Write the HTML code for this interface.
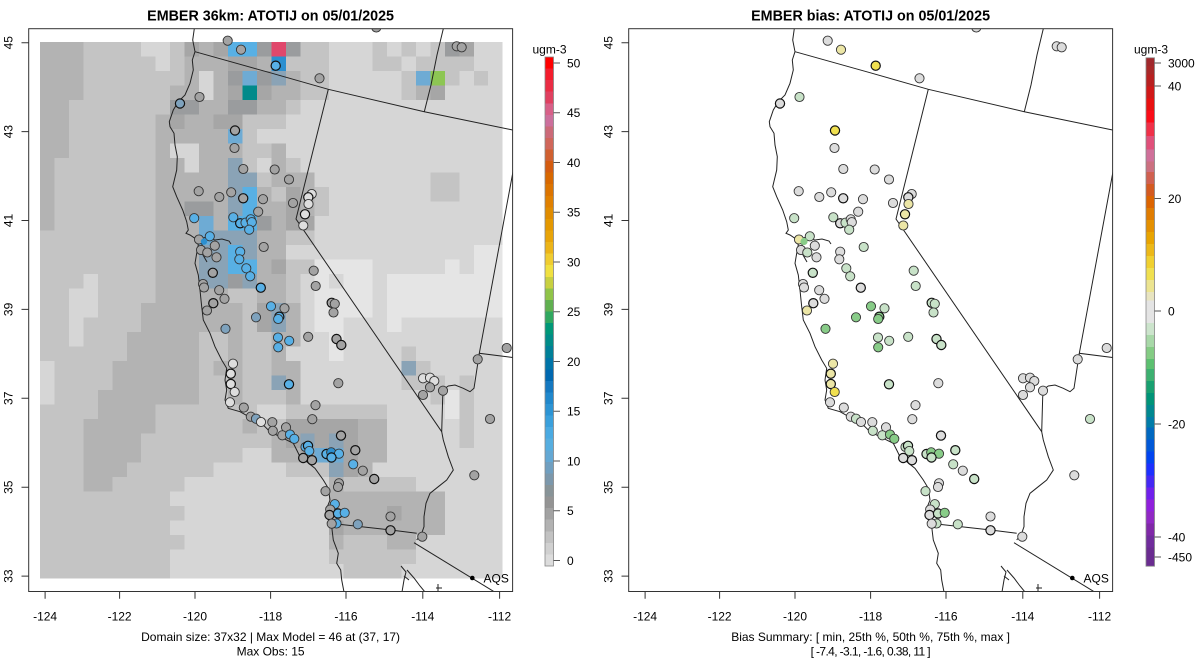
<!DOCTYPE html>
<html><head><meta charset="utf-8"><style>
html,body{margin:0;padding:0;background:#fff;}
svg{display:block;font-family:"Liberation Sans",Arial,sans-serif;}
.k0{fill:#e5e5e5}.k1{fill:#d6d6d6}.k2{fill:#c4c4c4}.k3{fill:#b3b3b3}.k4{fill:#a6a6a6}.k5{fill:#9a9c9e}
.k6{fill:#8aa3b6}.k7{fill:#6eabd4}.k8{fill:#58b0e4}.k9{fill:#2b8fd0}.kT{fill:#008a8a}.kR{fill:#e0486c}.kG{fill:#8dc653}
circle{stroke:#333;stroke-width:0.9}
.t{stroke:#111;stroke-width:1.2}
.cg{fill:#a3a3a3}.cw{fill:#dedede}.cb{fill:#58b0e6}.cs{fill:#7ea2bd}.c9{fill:#2b8fd0}
.rW{fill:#dcdcdc}.rP{fill:#ece6a6}.rY{fill:#f0e050}.rL{fill:#c8e2c8}.rG{fill:#88cc88}
.geo{fill:none;stroke:#222;stroke-width:1}
.ax{stroke:#333;stroke-width:1;fill:none}
text{font-size:12px;fill:#000}
.ttl{font-size:14.3px;font-weight:bold}
</style></head><body>
<svg width="1200" height="672" viewBox="0 0 1200 672" xmlns="http://www.w3.org/2000/svg">
<defs>
<clipPath id="cp" clipPathUnits="userSpaceOnUse"><rect x="28.7" y="28.7" width="483.9" height="562.8"/></clipPath>
<g id="geo">
<path class="geo" d="M194.3,28.7 L192.7,40 L195,51.7 L192.3,60 L193.3,70 L190,83.3 L185,95 L178.3,101.7 L173.3,110 L169.3,121.7 L170,126.7 L174,133.3 L175,145 L177.3,156.7 L176.7,170 L172.7,186.7 L176.7,196.7 L182.7,210 L186.7,221.7 L188.3,230 L186,233.3 L190,235 L195,238.3 L198.3,245 L196.7,253.3 L195,263.3 L198.3,275 L200,290 L201,300 L201.7,306.7 L203.3,320 L210,333.3 L215,346.7 L221.7,360 L226.7,368.3 L225,380 L226.7,390 L225,400 L228.3,408.3 L240,411.7 L250,417.3 L263.3,425 L270,431.7 L280,436.7 L293.3,443.3 L296.7,450 L300,456.7 L306.7,461.7 L315,468.3 L323.3,480 L328.3,488.3 L330,500 L326.7,508.3 L327.3,516.7 L331.7,526.7 L333.3,540 L338.3,553.3 L336.7,563.3 L340.7,570 L341.7,580 L344,592"/>
<path class="geo" d="M196,240 L205,237.5 L215,240 L222,239 L229,241 L231,244 M199,247 L203,255 L207,262 M201,242 L204,250"/>
<path class="geo" d="M195,51.7 L270,72.7 L328.3,89.3 L424.3,111.7 L512.6,130"/>
<path class="geo" d="M328.3,89.3 L296,219 L441.7,431.7"/>
<path class="geo" d="M424.3,111.7 L431,85 L437,55 L443.3,28.7"/>
<path class="geo" d="M513.3,170 L479.3,353.3 L512.6,357.5"/>
<path class="geo" d="M479.3,353.3 L474,388.3 L470,391.7 L463.3,388.3 L455,385 L448.3,386 L445,388.3 L442.7,396.7 L441.7,431.7 L443.3,440 L448.3,456.7 L453.3,470 L446.7,480 L438.3,486.7 L430,493.3 L426,503.3 L424,516.7 L424,526.7 L421.7,533.3 L416.7,540"/>
<path class="geo" d="M330,523.3 L390.7,530 L416.7,533.3"/>
<path class="geo" d="M414,542.7 L494.6,592"/>
<path class="geo" d="M401,566 L406,572 L404,580 L402,592 M407,570 L414,578 L420,586 L425,592 M404,576 L409,580 M438,584 L438,592 M436,588 L442,588"/>
</g>
</defs>

<!-- LEFT PANEL -->
<text class="ttl" x="270.6" y="20.3" text-anchor="middle">EMBER 36km: ATOTIJ on 05/01/2025</text>
<g transform="translate(40,42) scale(14.459,14.505)" shape-rendering="crispEdges">
<rect class="k1" x="0" y="0" width="32" height="37"/>
<path class="k2" d="M3 0h4v1h-4zM9 0h1v1h-1zM18 0h2v1h-2zM23 0h1v1h-1zM25 0h1v1h-1zM27 0h1v1h-1zM3 1h5v1h-5zM9 1h1v1h-1zM17 1h3v1h-3zM23 1h2v1h-2zM26 1h4v1h-4zM3 2h7v1h-7zM18 2h2v1h-2zM25 2h1v1h-1zM28 2h1v1h-1zM30 2h1v1h-1zM3 3h6v1h-6zM18 3h2v1h-2zM25 3h1v1h-1zM2 4h7v1h-7zM17 4h1v1h-1zM2 5h6v1h-6zM14 5h3v1h-3zM2 6h6v1h-6zM14 6h1v1h-1zM2 7h6v1h-6zM14 7h2v1h-2zM1 8h7v1h-7zM14 8h1v1h-1zM17 8h1v1h-1zM1 9h7v1h-7zM15 9h1v1h-1zM27 9h2v1h-2zM1 10h7v1h-7zM16 10h1v1h-1zM19 10h1v1h-1zM27 10h2v1h-2zM1 11h7v1h-7zM19 11h1v1h-1zM1 12h7v1h-7zM0 13h8v1h-8zM17 13h2v1h-2zM0 14h8v1h-8zM0 15h8v1h-8zM17 15h2v1h-2zM0 16h3v1h-3zM4 16h4v1h-4zM17 16h1v1h-1zM0 17h2v1h-2zM4 17h4v1h-4zM13 17h2v1h-2zM17 17h1v1h-1zM0 18h2v1h-2zM4 18h3v1h-3zM14 18h1v1h-1zM0 19h2v1h-2zM3 19h4v1h-4zM14 19h1v1h-1zM0 20h2v1h-2zM3 20h3v1h-3zM11 20h2v1h-2zM14 20h2v1h-2zM0 21h6v1h-6zM11 21h2v1h-2zM14 21h2v1h-2zM25 21h1v1h-1zM1 22h4v1h-4zM11 22h1v1h-1zM14 22h2v1h-2zM26 22h1v1h-1zM1 23h4v1h-4zM11 23h2v1h-2zM14 23h2v1h-2zM25 23h3v1h-3zM29 23h1v1h-1zM1 24h3v1h-3zM11 24h2v1h-2zM14 24h3v1h-3zM27 24h1v1h-1zM29 24h1v1h-1zM0 25h4v1h-4zM8 25h7v1h-7zM17 25h7v1h-7zM29 25h1v1h-1zM0 26h3v1h-3zM8 26h6v1h-6zM15 26h2v1h-2zM29 26h1v1h-1zM0 27h3v1h-3zM7 27h9v1h-9zM29 27h1v1h-1zM0 28h3v1h-3zM7 28h7v1h-7zM0 29h3v1h-3zM6 29h6v1h-6zM17 29h3v1h-3zM0 30h3v1h-3zM5 30h5v1h-5zM21 30h5v1h-5zM0 31h9v1h-9zM0 32h10v1h-10zM0 33h9v1h-9zM0 34h10v1h-10zM21 34h3v1h-3zM0 35h9v1h-9zM20 35h6v1h-6zM0 36h9v1h-9zM21 36h4v1h-4z"/>
<path class="k3" d="M0 0h3v1h-3zM11 0h1v1h-1zM0 1h3v1h-3zM10 1h3v1h-3zM15 1h1v1h-1zM0 2h3v1h-3zM10 2h1v1h-1zM12 2h1v1h-1zM17 2h1v1h-1zM0 3h3v1h-3zM9 3h2v1h-2zM12 3h1v1h-1zM16 3h2v1h-2zM26 3h1v1h-1zM0 4h2v1h-2zM11 4h2v1h-2zM15 4h2v1h-2zM0 5h2v1h-2zM8 5h1v1h-1zM10 5h2v1h-2zM0 6h2v1h-2zM8 6h5v1h-5zM0 7h2v1h-2zM8 7h1v1h-1zM11 7h3v1h-3zM16 7h1v1h-1zM0 8h1v1h-1zM8 8h2v1h-2zM11 8h2v1h-2zM16 8h1v1h-1zM0 9h1v1h-1zM8 9h5v1h-5zM16 9h3v1h-3zM0 10h1v1h-1zM8 10h5v1h-5zM15 10h1v1h-1zM18 10h1v1h-1zM0 11h1v1h-1zM8 11h2v1h-2zM12 11h1v1h-1zM15 11h2v1h-2zM18 11h1v1h-1zM0 12h1v1h-1zM8 12h3v1h-3zM12 12h1v1h-1zM16 12h1v1h-1zM8 13h3v1h-3zM15 13h2v1h-2zM8 14h3v1h-3zM15 14h2v1h-2zM8 15h3v1h-3zM15 15h1v1h-1zM8 16h3v1h-3zM15 16h2v1h-2zM8 17h5v1h-5zM15 17h2v1h-2zM7 18h7v1h-7zM17 18h1v1h-1zM7 19h7v1h-7zM17 19h1v1h-1zM6 20h5v1h-5zM13 20h1v1h-1zM16 20h2v1h-2zM6 21h5v1h-5zM13 21h1v1h-1zM16 21h1v1h-1zM5 22h6v1h-6zM12 22h2v1h-2zM16 22h2v1h-2zM5 23h6v1h-6zM13 23h1v1h-1zM17 23h1v1h-1zM4 24h7v1h-7zM13 24h1v1h-1zM17 24h1v1h-1zM4 25h4v1h-4zM3 26h5v1h-5zM14 26h1v1h-1zM22 26h2v1h-2zM3 27h4v1h-4zM16 27h1v1h-1zM22 27h2v1h-2zM3 28h4v1h-4zM16 28h2v1h-2zM22 28h2v1h-2zM3 29h3v1h-3zM22 29h1v1h-1zM3 30h2v1h-2zM20 30h1v1h-1zM20 31h8v1h-8zM20 32h4v1h-4zM25 32h3v1h-3zM21 33h7v1h-7zM20 34h1v1h-1zM24 34h2v1h-2z"/>
<path class="k0" d="M30 14h2v1h-2zM19 15h4v1h-4zM28 15h1v1h-1zM30 15h2v1h-2zM19 16h1v1h-1zM21 16h2v1h-2zM24 16h8v1h-8zM19 17h4v1h-4zM24 17h8v1h-8zM19 18h4v1h-4zM24 18h8v1h-8zM19 19h2v1h-2zM24 19h1v1h-1zM20 20h1v1h-1zM20 21h1v1h-1zM28 24h1v1h-1zM28 25h1v1h-1z"/>
<path class="k4" d="M10 0h1v1h-1zM12 0h1v1h-1zM29 0h1v1h-1zM13 1h2v1h-2zM13 3h1v1h-1zM15 3h1v1h-1zM27 3h1v1h-1zM9 5h1v1h-1zM12 5h2v1h-2zM17 10h1v1h-1zM17 11h1v1h-1zM17 12h2v1h-2zM16 15h1v1h-1zM15 18h1v1h-1zM15 19h1v1h-1zM17 26h5v1h-5zM17 27h1v1h-1zM19 27h1v1h-1zM21 27h1v1h-1zM18 28h1v1h-1zM21 28h1v1h-1zM21 29h1v1h-1zM24 32h1v1h-1zM20 33h1v1h-1z"/>
<path class="k5" d="M15 0h1v1h-1zM17 0h1v1h-1zM28 0h1v1h-1zM13 2h1v1h-1zM15 2h1v1h-1zM9 4h2v1h-2zM13 4h2v1h-2zM10 11h2v1h-2zM15 12h1v1h-1zM13 16h1v1h-1z"/>
<path class="k6" d="M16 2h1v1h-1zM13 8h1v1h-1zM13 9h2v1h-2zM13 10h1v1h-1zM13 11h1v1h-1zM12 13h3v1h-3zM11 14h2v1h-2zM14 14h1v1h-1zM11 15h2v1h-2zM11 16h2v1h-2zM14 16h1v1h-1zM16 18h1v1h-1zM16 19h1v1h-1zM25 22h1v1h-1zM16 23h1v1h-1zM18 27h1v1h-1zM20 27h1v1h-1zM20 29h1v1h-1z"/>
<path class="k7" d="M14 2h1v1h-1zM26 2h1v1h-1zM13 6h1v1h-1zM11 12h1v1h-1zM11 13h1v1h-1zM19 28h2v1h-2z"/>
<path class="k8" d="M13 0h2v1h-2zM14 10h1v1h-1zM14 11h1v1h-1zM13 12h2v1h-2zM13 14h1v1h-1zM13 15h2v1h-2z"/>
<path class="k9" d="M16 1h1v1h-1z"/>
<path class="kT" d="M14 3h1v1h-1z"/>
<path class="kR" d="M16 0h1v1h-1z"/>
<path class="kG" d="M27 2h1v1h-1z"/>
</g>
<g clip-path="url(#cp)">
<use href="#geo"/>
<g>
<circle cx="227.7" cy="40.7" r="4.6" class="cg"/>
<circle cx="241" cy="49.7" r="4.6" class="cg"/>
<circle cx="275.7" cy="65.7" r="4.6" class="cb t"/>
<circle cx="319.5" cy="78.3" r="4.6" class="cg"/>
<circle cx="180" cy="103.5" r="4.6" class="cs t"/>
<circle cx="199.5" cy="97" r="4.6" class="cg"/>
<circle cx="235" cy="130.5" r="4.6" class="cg t"/>
<circle cx="234.5" cy="148" r="4.6" class="cg"/>
<circle cx="243.3" cy="169" r="4.6" class="cg"/>
<circle cx="274.7" cy="169.5" r="4.6" class="cg"/>
<circle cx="289" cy="179.5" r="4.6" class="cg"/>
<circle cx="198.7" cy="191.2" r="4.6" class="cg"/>
<circle cx="219.3" cy="197" r="4.6" class="cg"/>
<circle cx="231.2" cy="192.3" r="4.6" class="cg"/>
<circle cx="243.2" cy="198.3" r="4.6" class="cg t"/>
<circle cx="263" cy="199.2" r="4.6" class="cg"/>
<circle cx="258.2" cy="211.7" r="4.6" class="cg"/>
<circle cx="311.7" cy="194" r="4.6" class="cw"/>
<circle cx="308.3" cy="197.3" r="4.6" class="cw t"/>
<circle cx="308.5" cy="204" r="4.6" class="cw"/>
<circle cx="293" cy="203" r="4.6" class="cg"/>
<circle cx="305" cy="214.3" r="4.6" class="cw t"/>
<circle cx="303.3" cy="225.5" r="4.6" class="cw"/>
<circle cx="194.2" cy="218.2" r="4.6" class="cb"/>
<circle cx="233.3" cy="217.3" r="4.6" class="cb"/>
<circle cx="240.2" cy="223.3" r="4.6" class="cb t"/>
<circle cx="245.5" cy="222.7" r="4.6" class="cb"/>
<circle cx="250.7" cy="219.3" r="4.6" class="cb"/>
<circle cx="251.8" cy="222.2" r="4.6" class="cb"/>
<circle cx="249.2" cy="229.7" r="4.6" class="cb"/>
<circle cx="209.8" cy="236.3" r="4.6" class="cb"/>
<circle cx="199" cy="239.5" r="4.6" class="cg"/>
<circle cx="204" cy="241.5" r="3.2" class="c9" style="stroke:none"/>
<circle cx="214.8" cy="245.7" r="4.6" class="cg"/>
<circle cx="201" cy="250" r="4.6" class="cg"/>
<circle cx="207.3" cy="252.5" r="4.6" class="cg"/>
<circle cx="216.5" cy="257.3" r="4.6" class="cg"/>
<circle cx="240.2" cy="251.7" r="4.6" class="cb"/>
<circle cx="239.3" cy="259.3" r="4.6" class="cb"/>
<circle cx="263.7" cy="247" r="4.6" class="cg"/>
<circle cx="212.8" cy="272.8" r="4.6" class="cg t"/>
<circle cx="246.3" cy="268.3" r="4.6" class="cb"/>
<circle cx="250.2" cy="276.3" r="4.6" class="cb"/>
<circle cx="260.8" cy="287.7" r="4.6" class="cb t"/>
<circle cx="203" cy="284" r="4.6" class="cg"/>
<circle cx="204" cy="287.5" r="4.6" class="cg"/>
<circle cx="219.2" cy="290.2" r="4.6" class="cg"/>
<circle cx="224.5" cy="298.8" r="4.6" class="cg"/>
<circle cx="213.3" cy="303.2" r="4.6" class="cg t"/>
<circle cx="271" cy="306.3" r="4.6" class="cb"/>
<circle cx="284.5" cy="308.3" r="4.6" class="cg"/>
<circle cx="313.7" cy="270.7" r="4.6" class="cg"/>
<circle cx="315.7" cy="286" r="4.6" class="cg"/>
<circle cx="331.7" cy="302.8" r="4.6" class="cg t"/>
<circle cx="334.8" cy="303.8" r="4.6" class="cg"/>
<circle cx="207" cy="310.5" r="4.6" class="cg"/>
<circle cx="256" cy="317.3" r="4.6" class="cs"/>
<circle cx="279.3" cy="316.7" r="4.6" class="cb t"/>
<circle cx="278.2" cy="319" r="4.6" class="cb"/>
<circle cx="225.5" cy="328.8" r="4.6" class="cs"/>
<circle cx="333.5" cy="312.5" r="4.6" class="cg"/>
<circle cx="278" cy="337.5" r="4.6" class="cb"/>
<circle cx="278.2" cy="347.3" r="4.6" class="cb"/>
<circle cx="289.2" cy="340.8" r="4.6" class="cb"/>
<circle cx="308.2" cy="336.8" r="4.6" class="cg"/>
<circle cx="336.5" cy="339" r="4.6" class="cg t"/>
<circle cx="341.3" cy="345" r="4.6" class="cg t"/>
<circle cx="233" cy="363.7" r="4.6" class="cw"/>
<circle cx="230.8" cy="373.7" r="4.6" class="cw t"/>
<circle cx="230.8" cy="384" r="4.6" class="cw t"/>
<circle cx="234.7" cy="392" r="4.6" class="cw"/>
<circle cx="230" cy="402.3" r="4.6" class="cw"/>
<circle cx="243.8" cy="407.6" r="4.6" class="cg"/>
<circle cx="289" cy="384.3" r="4.6" class="cb t"/>
<circle cx="338.3" cy="383.2" r="4.6" class="cg"/>
<circle cx="315.5" cy="405.2" r="4.6" class="cg"/>
<circle cx="312.3" cy="419.2" r="4.6" class="cg"/>
<circle cx="250.8" cy="416.7" r="4.6" class="cg"/>
<circle cx="256" cy="418.7" r="4.6" class="cs"/>
<circle cx="261" cy="422" r="4.6" class="cw"/>
<circle cx="272.3" cy="422.2" r="4.6" class="cg"/>
<circle cx="272.8" cy="430.8" r="4.6" class="cg"/>
<circle cx="286" cy="427.3" r="4.6" class="cg"/>
<circle cx="282.3" cy="435.3" r="4.6" class="cg"/>
<circle cx="290" cy="434.5" r="4.6" class="cb"/>
<circle cx="294.3" cy="438.8" r="4.6" class="cb"/>
<circle cx="305.5" cy="447" r="4.6" class="cb"/>
<circle cx="308" cy="445.8" r="4.6" class="cb t"/>
<circle cx="309.3" cy="451" r="4.6" class="cb"/>
<circle cx="303.2" cy="458" r="4.6" class="cg t"/>
<circle cx="312" cy="460.2" r="4.6" class="cg t"/>
<circle cx="341" cy="435.6" r="4.6" class="cg t"/>
<circle cx="326.5" cy="454" r="4.6" class="cb t"/>
<circle cx="331.2" cy="452.3" r="4.6" class="c9"/>
<circle cx="339" cy="453.7" r="4.6" class="cb"/>
<circle cx="331.5" cy="457.5" r="4.6" class="cb t"/>
<circle cx="355.3" cy="450.2" r="4.6" class="cg t"/>
<circle cx="353.2" cy="464.3" r="4.6" class="cb"/>
<circle cx="362.8" cy="470.7" r="4.6" class="cg"/>
<circle cx="374.2" cy="479" r="4.6" class="cg t"/>
<circle cx="339" cy="483.3" r="4.6" class="cg"/>
<circle cx="338" cy="487" r="4.6" class="cg"/>
<circle cx="325.5" cy="491.2" r="4.6" class="cg"/>
<circle cx="334.8" cy="504.2" r="4.6" class="cb"/>
<circle cx="330.2" cy="509.5" r="4.6" class="cg"/>
<circle cx="329.5" cy="515" r="4.6" class="cg t"/>
<circle cx="338" cy="513.5" r="4.6" class="cb t"/>
<circle cx="344.7" cy="512.8" r="4.6" class="cb"/>
<circle cx="336.5" cy="523.5" r="4.6" class="cb"/>
<circle cx="331.7" cy="523.7" r="4.6" class="cg"/>
<circle cx="357.8" cy="524.3" r="4.6" class="cs"/>
<circle cx="390.5" cy="516.5" r="4.6" class="cg"/>
<circle cx="390.5" cy="530.3" r="4.6" class="cg t"/>
<circle cx="422.3" cy="536.7" r="4.6" class="cg"/>
<circle cx="423" cy="378.3" r="4.6" class="cw"/>
<circle cx="430" cy="377.7" r="4.6" class="cw"/>
<circle cx="434.3" cy="381" r="4.6" class="cw"/>
<circle cx="430" cy="387.3" r="4.6" class="cg"/>
<circle cx="423" cy="395" r="4.6" class="cg"/>
<circle cx="443" cy="390.7" r="4.6" class="cg"/>
<circle cx="477.7" cy="359.3" r="4.6" class="cg"/>
<circle cx="506.7" cy="348" r="4.6" class="cg"/>
<circle cx="490" cy="419" r="4.6" class="cg"/>
<circle cx="474.3" cy="475.3" r="4.6" class="cg"/>
<circle cx="376.3" cy="27.5" r="4.6" class="cg"/>
<circle cx="456.7" cy="46.3" r="4.6" class="cg"/>
<circle cx="461.7" cy="47.3" r="4.6" class="cg"/>
</g>
<circle cx="472.3" cy="578" r="2.3" style="fill:#000;stroke:none"/>
</g>
<text x="483.5" y="582.3">AQS</text>
<rect class="ax" x="28.7" y="28.7" width="483.9" height="562.8"/>
<path class="ax" d="M45.1,591.5v7.2M119.6,591.5v7.2M195,591.5v7.2M270.6,591.5v7.2M346,591.5v7.2M422.8,591.5v7.2M499.6,591.5v7.2M28.7,42.7h-7.2M28.7,131.6h-7.2M28.7,220.5h-7.2M28.7,309.4h-7.2M28.7,398.3h-7.2M28.7,487.2h-7.2M28.7,576.1h-7.2"/>
<g text-anchor="middle">
<text x="45.1" y="620.3">-124</text><text x="119.6" y="620.3">-122</text><text x="195" y="620.3">-120</text><text x="270.6" y="620.3">-118</text><text x="346" y="620.3">-116</text><text x="422.8" y="620.3">-114</text><text x="499.6" y="620.3">-112</text>
<text transform="translate(12.3,42.7) rotate(-90)">45</text>
<text transform="translate(12.3,131.6) rotate(-90)">43</text>
<text transform="translate(12.3,220.5) rotate(-90)">41</text>
<text transform="translate(12.3,309.4) rotate(-90)">39</text>
<text transform="translate(12.3,398.3) rotate(-90)">37</text>
<text transform="translate(12.3,487.2) rotate(-90)">35</text>
<text transform="translate(12.3,576.1) rotate(-90)">33</text>
<text x="270.6" y="641">Domain size: 37x32 | Max Model = 46 at (37, 17)</text>
<text x="270.6" y="655.5">Max Obs: 15</text>
<text x="549.5" y="53.5">ugm-3</text>
</g>
<!-- left colorbar -->
<g transform="translate(545,57) scale(8.5,11.568)" shape-rendering="crispEdges">
<rect y="0" width="1" height="1.02" fill="#ff0000"/><rect y="1" width="1" height="1.02" fill="#f41c2c"/><rect y="2" width="1" height="1.02" fill="#ea2c44"/><rect y="3" width="1" height="1.02" fill="#e04060"/><rect y="4" width="1" height="1.02" fill="#d86088"/><rect y="5" width="1" height="1.02" fill="#cc6f9c"/><rect y="6" width="1" height="1.02" fill="#cc6a78"/><rect y="7" width="1" height="1.02" fill="#d0665a"/><rect y="8" width="1" height="1.02" fill="#d06030"/><rect y="9" width="1" height="1.02" fill="#d45c10"/><rect y="10" width="1" height="1.02" fill="#d86800"/><rect y="11" width="1" height="1.02" fill="#dc7400"/><rect y="12" width="1" height="1.02" fill="#e08000"/><rect y="13" width="1" height="1.02" fill="#e08c00"/><rect y="14" width="1" height="1.02" fill="#e49800"/><rect y="15" width="1" height="1.02" fill="#e8a408"/><rect y="16" width="1" height="1.02" fill="#ecb418"/><rect y="17" width="1" height="1.02" fill="#f0cc30"/><rect y="18" width="1" height="1.02" fill="#f0e040"/><rect y="19" width="1" height="1.02" fill="#c8d040"/><rect y="20" width="1" height="1.02" fill="#90c448"/><rect y="21" width="1" height="1.02" fill="#60b050"/><rect y="22" width="1" height="1.02" fill="#30a860"/><rect y="23" width="1" height="1.02" fill="#009878"/><rect y="24" width="1" height="1.02" fill="#008c88"/><rect y="25" width="1" height="1.02" fill="#008098"/><rect y="26" width="1" height="1.02" fill="#0074a8"/><rect y="27" width="1" height="1.02" fill="#0068b0"/><rect y="28" width="1" height="1.02" fill="#1478c0"/><rect y="29" width="1" height="1.02" fill="#2088cc"/><rect y="30" width="1" height="1.02" fill="#2c94d4"/><rect y="31" width="1" height="1.02" fill="#3aa0dc"/><rect y="32" width="1" height="1.02" fill="#4aaae2"/><rect y="33" width="1" height="1.02" fill="#56aee0"/><rect y="34" width="1" height="1.02" fill="#64a8d4"/><rect y="35" width="1" height="1.02" fill="#709fc0"/><rect y="36" width="1" height="1.02" fill="#7c98ac"/><rect y="37" width="1" height="1.02" fill="#889498"/><rect y="38" width="1" height="1.02" fill="#949494"/><rect y="39" width="1" height="1.02" fill="#a2a2a2"/><rect y="40" width="1" height="1.02" fill="#b2b2b2"/><rect y="41" width="1" height="1.02" fill="#c2c2c2"/><rect y="42" width="1" height="1.02" fill="#d0d0d0"/><rect y="43" width="1" height="1" fill="#dcdcdc"/>
</g>
<rect x="545" y="57" width="8.5" height="509" fill="none" stroke="#888" stroke-width="0.8"/>
<path d="M553.5,63h6.5M553.5,112.8h6.5M553.5,162.5h6.5M553.5,212.3h6.5M553.5,262h6.5M553.5,311.8h6.5M553.5,361.5h6.5M553.5,411.3h6.5M553.5,461h6.5M553.5,510.8h6.5M553.5,560.5h6.5" stroke="#555" stroke-width="1"/>
<g>
<text x="567" y="67.3">50</text><text x="567" y="117.1">45</text><text x="567" y="166.8">40</text><text x="567" y="216.6">35</text><text x="567" y="266.3">30</text><text x="567" y="316.1">25</text><text x="567" y="365.8">20</text><text x="567" y="415.6">15</text><text x="567" y="465.3">10</text><text x="567" y="515.1">5</text><text x="567" y="564.8">0</text>
</g>

<!-- RIGHT PANEL -->
<text class="ttl" x="870.6" y="20.3" text-anchor="middle">EMBER bias: ATOTIJ on 05/01/2025</text>
<g transform="translate(600,0)">
<g clip-path="url(#cp)">
<use href="#geo"/>
<g>
<circle cx="227.7" cy="40.7" r="4.6" class="rW"/>
<circle cx="241" cy="49.7" r="4.6" class="rP"/>
<circle cx="275.7" cy="65.7" r="4.6" class="rY t"/>
<circle cx="319.5" cy="78.3" r="4.6" class="rW"/>
<circle cx="180" cy="103.5" r="4.6" class="rW t"/>
<circle cx="199.5" cy="97" r="4.6" class="rL"/>
<circle cx="235" cy="130.5" r="4.6" class="rY t"/>
<circle cx="234.5" cy="148" r="4.6" class="rW"/>
<circle cx="243.3" cy="169" r="4.6" class="rW"/>
<circle cx="274.7" cy="169.5" r="4.6" class="rW"/>
<circle cx="289" cy="179.5" r="4.6" class="rW"/>
<circle cx="198.7" cy="191.2" r="4.6" class="rW"/>
<circle cx="219.3" cy="197" r="4.6" class="rW"/>
<circle cx="231.2" cy="192.3" r="4.6" class="rW"/>
<circle cx="243.2" cy="198.3" r="4.6" class="rW t"/>
<circle cx="263" cy="199.2" r="4.6" class="rW"/>
<circle cx="258.2" cy="211.7" r="4.6" class="rW"/>
<circle cx="311.7" cy="194" r="4.6" class="rW"/>
<circle cx="308.3" cy="197.3" r="4.6" class="rW t"/>
<circle cx="308.5" cy="204" r="4.6" class="rP"/>
<circle cx="293" cy="203" r="4.6" class="rW"/>
<circle cx="305" cy="214.3" r="4.6" class="rP t"/>
<circle cx="303.3" cy="225.5" r="4.6" class="rP"/>
<circle cx="194.2" cy="218.2" r="4.6" class="rL"/>
<circle cx="233.3" cy="217.3" r="4.6" class="rL"/>
<circle cx="240.2" cy="223.3" r="4.6" class="rW t"/>
<circle cx="245.5" cy="222.7" r="4.6" class="rL"/>
<circle cx="250.7" cy="219.3" r="4.6" class="rW"/>
<circle cx="251.8" cy="222.2" r="4.6" class="rW"/>
<circle cx="249.2" cy="229.7" r="4.6" class="rL"/>
<circle cx="209.8" cy="236.3" r="4.6" class="rL"/>
<circle cx="199" cy="239.5" r="4.6" class="rP"/>
<circle cx="204" cy="241.5" r="3.6" class="rG" style="stroke:none"/>
<circle cx="214.8" cy="245.7" r="4.6" class="rW"/>
<circle cx="201" cy="250" r="4.6" class="rW"/>
<circle cx="207.3" cy="252.5" r="4.6" class="rL"/>
<circle cx="216.5" cy="257.3" r="4.6" class="rW"/>
<circle cx="240.2" cy="251.7" r="4.6" class="rW"/>
<circle cx="239.3" cy="259.3" r="4.6" class="rW"/>
<circle cx="263.7" cy="247" r="4.6" class="rL"/>
<circle cx="212.8" cy="272.8" r="4.6" class="rL t"/>
<circle cx="246.3" cy="268.3" r="4.6" class="rL"/>
<circle cx="250.2" cy="276.3" r="4.6" class="rL"/>
<circle cx="260.8" cy="287.7" r="4.6" class="rW t"/>
<circle cx="203" cy="284" r="4.6" class="rW"/>
<circle cx="204" cy="287.5" r="4.6" class="rW"/>
<circle cx="219.2" cy="290.2" r="4.6" class="rW"/>
<circle cx="224.5" cy="298.8" r="4.6" class="rW"/>
<circle cx="213.3" cy="303.2" r="4.6" class="rW t"/>
<circle cx="271" cy="306.3" r="4.6" class="rG"/>
<circle cx="284.5" cy="308.3" r="4.6" class="rL"/>
<circle cx="313.7" cy="270.7" r="4.6" class="rL"/>
<circle cx="315.7" cy="286" r="4.6" class="rL"/>
<circle cx="331.7" cy="302.8" r="4.6" class="rL t"/>
<circle cx="334.8" cy="303.8" r="4.6" class="rL"/>
<circle cx="207" cy="310.5" r="4.6" class="rP"/>
<circle cx="256" cy="317.3" r="4.6" class="rG"/>
<circle cx="279.3" cy="316.7" r="4.6" class="rG t"/>
<circle cx="278.2" cy="319" r="4.6" class="rG"/>
<circle cx="225.5" cy="328.8" r="4.6" class="rG"/>
<circle cx="333.5" cy="312.5" r="4.6" class="rL"/>
<circle cx="278" cy="337.5" r="4.6" class="rL"/>
<circle cx="278.2" cy="347.3" r="4.6" class="rG"/>
<circle cx="289.2" cy="340.8" r="4.6" class="rL"/>
<circle cx="308.2" cy="336.8" r="4.6" class="rL"/>
<circle cx="336.5" cy="339" r="4.6" class="rL t"/>
<circle cx="341.3" cy="345" r="4.6" class="rL t"/>
<circle cx="233" cy="363.7" r="4.6" class="rP"/>
<circle cx="230.8" cy="373.7" r="4.6" class="rP t"/>
<circle cx="230.8" cy="384" r="4.6" class="rP t"/>
<circle cx="234.7" cy="392" r="4.6" class="rY"/>
<circle cx="230" cy="402.3" r="4.6" class="rW"/>
<circle cx="243.8" cy="407.6" r="4.6" class="rW"/>
<circle cx="289" cy="384.3" r="4.6" class="rL t"/>
<circle cx="338.3" cy="383.2" r="4.6" class="rW"/>
<circle cx="315.5" cy="405.2" r="4.6" class="rW"/>
<circle cx="312.3" cy="419.2" r="4.6" class="rW"/>
<circle cx="250.8" cy="416.7" r="4.6" class="rW"/>
<circle cx="256" cy="418.7" r="4.6" class="rL"/>
<circle cx="261" cy="422" r="4.6" class="rW"/>
<circle cx="272.3" cy="422.2" r="4.6" class="rW"/>
<circle cx="272.8" cy="430.8" r="4.6" class="rL"/>
<circle cx="286" cy="427.3" r="4.6" class="rW"/>
<circle cx="282.3" cy="435.3" r="4.6" class="rL"/>
<circle cx="290" cy="434.5" r="4.6" class="rG"/>
<circle cx="294.3" cy="438.8" r="4.6" class="rG"/>
<circle cx="305.5" cy="447" r="4.6" class="rL"/>
<circle cx="308" cy="445.8" r="4.6" class="rL t"/>
<circle cx="309.3" cy="451" r="4.6" class="rL"/>
<circle cx="303.2" cy="458" r="4.6" class="rW t"/>
<circle cx="312" cy="460.2" r="4.6" class="rW t"/>
<circle cx="341" cy="435.6" r="4.6" class="rW t"/>
<circle cx="326.5" cy="454" r="4.6" class="rL t"/>
<circle cx="331.2" cy="452.3" r="4.6" class="rG"/>
<circle cx="339" cy="453.7" r="4.6" class="rG"/>
<circle cx="331.5" cy="457.5" r="4.6" class="rL t"/>
<circle cx="355.3" cy="450.2" r="4.6" class="rL t"/>
<circle cx="353.2" cy="464.3" r="4.6" class="rL"/>
<circle cx="362.8" cy="470.7" r="4.6" class="rW"/>
<circle cx="374.2" cy="479" r="4.6" class="rL t"/>
<circle cx="339" cy="483.3" r="4.6" class="rW"/>
<circle cx="338" cy="487" r="4.6" class="rW"/>
<circle cx="325.5" cy="491.2" r="4.6" class="rL"/>
<circle cx="334.8" cy="504.2" r="4.6" class="rL"/>
<circle cx="330.2" cy="509.5" r="4.6" class="rW"/>
<circle cx="329.5" cy="515" r="4.6" class="rW t"/>
<circle cx="338" cy="513.5" r="4.6" class="rL t"/>
<circle cx="344.7" cy="512.8" r="4.6" class="rG"/>
<circle cx="336.5" cy="523.5" r="4.6" class="rL"/>
<circle cx="331.7" cy="523.7" r="4.6" class="rW"/>
<circle cx="357.8" cy="524.3" r="4.6" class="rL"/>
<circle cx="390.5" cy="516.5" r="4.6" class="rW"/>
<circle cx="390.5" cy="530.3" r="4.6" class="rW t"/>
<circle cx="422.3" cy="536.7" r="4.6" class="rW"/>
<circle cx="423" cy="378.3" r="4.6" class="rW"/>
<circle cx="430" cy="377.7" r="4.6" class="rW"/>
<circle cx="434.3" cy="381" r="4.6" class="rW"/>
<circle cx="430" cy="387.3" r="4.6" class="rW"/>
<circle cx="423" cy="395" r="4.6" class="rW"/>
<circle cx="443" cy="390.7" r="4.6" class="rW"/>
<circle cx="477.7" cy="359.3" r="4.6" class="rW"/>
<circle cx="506.7" cy="348" r="4.6" class="rW"/>
<circle cx="490" cy="419" r="4.6" class="rL"/>
<circle cx="474.3" cy="475.3" r="4.6" class="rW"/>
<circle cx="376.3" cy="27.5" r="4.6" class="rW"/>
<circle cx="456.7" cy="46.3" r="4.6" class="rW"/>
<circle cx="461.7" cy="47.3" r="4.6" class="rW"/>
</g>
<circle cx="472.3" cy="578" r="2.3" style="fill:#000;stroke:none"/>
</g>
<text x="483.5" y="582.3">AQS</text>
<rect class="ax" x="28.7" y="28.7" width="483.9" height="562.8"/>
<path class="ax" d="M45.1,591.5v7.2M119.6,591.5v7.2M195,591.5v7.2M270.6,591.5v7.2M346,591.5v7.2M422.8,591.5v7.2M499.6,591.5v7.2M28.7,42.7h-7.2M28.7,131.6h-7.2M28.7,220.5h-7.2M28.7,309.4h-7.2M28.7,398.3h-7.2M28.7,487.2h-7.2M28.7,576.1h-7.2"/>
<g text-anchor="middle">
<text x="45.1" y="620.3">-124</text><text x="119.6" y="620.3">-122</text><text x="195" y="620.3">-120</text><text x="270.6" y="620.3">-118</text><text x="346" y="620.3">-116</text><text x="422.8" y="620.3">-114</text><text x="499.6" y="620.3">-112</text>
<text transform="translate(12.3,42.7) rotate(-90)">45</text>
<text transform="translate(12.3,131.6) rotate(-90)">43</text>
<text transform="translate(12.3,220.5) rotate(-90)">41</text>
<text transform="translate(12.3,309.4) rotate(-90)">39</text>
<text transform="translate(12.3,398.3) rotate(-90)">37</text>
<text transform="translate(12.3,487.2) rotate(-90)">35</text>
<text transform="translate(12.3,576.1) rotate(-90)">33</text>
<text x="270.6" y="641">Bias Summary: [ min, 25th %, 50th %, 75th %, max ]</text>
<text x="270.6" y="655.5" xml:space="preserve" textLength="120" lengthAdjust="spacing">[ -7.4, -3.1, -1.6, 0.38, 11 ]</text>
</g>
</g>
<!-- right colorbar -->
<g shape-rendering="crispEdges">
<rect x="1146" y="57.8" width="8.5" height="8.5" fill="#a0282c"/>
<rect x="1146" y="66" width="8.5" height="8.5" fill="#a82828"/>
<rect x="1146" y="74.3" width="8.5" height="12.3" fill="#b82020"/>
<rect x="1146" y="86.3" width="8.5" height="12.3" fill="#d01818"/>
<rect x="1146" y="98.3" width="8.5" height="12.3" fill="#e81010"/>
<rect x="1146" y="110.3" width="8.5" height="12.3" fill="#fa0c18"/>
<rect x="1146" y="122.3" width="8.5" height="14" fill="#f03048"/>
<rect x="1146" y="136" width="8.5" height="14" fill="#e0507a"/>
<rect x="1146" y="149.7" width="8.5" height="12.3" fill="#d0709a"/>
<rect x="1146" y="161.7" width="8.5" height="10.6" fill="#cc7080"/>
<rect x="1146" y="172" width="8.5" height="12.3" fill="#d06050"/>
<rect x="1146" y="184" width="8.5" height="12.3" fill="#d45a20"/>
<rect x="1146" y="196" width="8.5" height="12.3" fill="#dc6400"/>
<rect x="1146" y="208" width="8.5" height="12.3" fill="#e07c00"/>
<rect x="1146" y="220" width="8.5" height="12.3" fill="#e49000"/>
<rect x="1146" y="232" width="8.5" height="12.3" fill="#e8a400"/>
<rect x="1146" y="244" width="8.5" height="12.3" fill="#ecb818"/>
<rect x="1146" y="256" width="8.5" height="12.3" fill="#f0d030"/>
<rect x="1146" y="268" width="8.5" height="12.3" fill="#f0e050"/>
<rect x="1146" y="280" width="8.5" height="12.3" fill="#ece490"/>
<rect x="1146" y="292" width="8.5" height="8.9" fill="#e8e4c0"/>
<rect x="1146" y="300.6" width="8.5" height="22.7" fill="#e4e4e4"/>
<rect x="1146" y="323" width="8.5" height="12.3" fill="#cce4cc"/>
<rect x="1146" y="335" width="8.5" height="12.3" fill="#a8d8a8"/>
<rect x="1146" y="347" width="8.5" height="12.3" fill="#84cc84"/>
<rect x="1146" y="359" width="8.5" height="10.3" fill="#5cc070"/>
<rect x="1146" y="369" width="8.5" height="12.3" fill="#3cb070"/>
<rect x="1146" y="381" width="8.5" height="12.3" fill="#18a070"/>
<rect x="1146" y="393" width="8.5" height="12.3" fill="#009478"/>
<rect x="1146" y="405" width="8.5" height="12.3" fill="#008890"/>
<rect x="1146" y="417" width="8.5" height="10.8" fill="#007ca8"/>
<rect x="1146" y="427.5" width="8.5" height="12.3" fill="#0068c0"/>
<rect x="1146" y="439.5" width="8.5" height="12.3" fill="#0058d8"/>
<rect x="1146" y="451.5" width="8.5" height="12.3" fill="#0044f0"/>
<rect x="1146" y="463.5" width="8.5" height="12.3" fill="#1c30ff"/>
<rect x="1146" y="475.5" width="8.5" height="12.3" fill="#4428f4"/>
<rect x="1146" y="487.5" width="8.5" height="12.3" fill="#7020ec"/>
<rect x="1146" y="499.5" width="8.5" height="12.3" fill="#9020dc"/>
<rect x="1146" y="511.5" width="8.5" height="12.3" fill="#9028c4"/>
<rect x="1146" y="523.5" width="8.5" height="12.3" fill="#8028a8"/>
<rect x="1146" y="535.5" width="8.5" height="12.3" fill="#702c9c"/>
<rect x="1146" y="547.5" width="8.5" height="18.7" fill="#6a2c90"/>
</g>
<rect x="1146" y="57.8" width="8.5" height="508.4" fill="none" stroke="#888" stroke-width="0.8"/>
<path d="M1154.5,63h6.5M1154.5,86h6.5M1154.5,198.5h6.5M1154.5,311h6.5M1154.5,424h6.5M1154.5,537h6.5M1154.5,557h6.5" stroke="#555" stroke-width="1"/>
<g>
<text x="1168" y="67.3">3000</text><text x="1168" y="90.3">40</text><text x="1168" y="202.8">20</text><text x="1168" y="315.3">0</text><text x="1168" y="428.3">-20</text><text x="1168" y="541.3">-40</text><text x="1168" y="561.3">-450</text>
</g>
<text x="1151" y="53.5" text-anchor="middle">ugm-3</text>
</svg>
</body></html>
